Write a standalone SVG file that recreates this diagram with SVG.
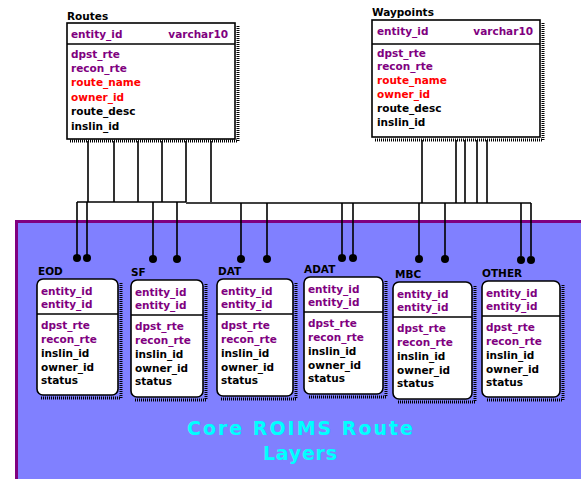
<svg xmlns="http://www.w3.org/2000/svg" width="581" height="479" viewBox="0 0 581 479">
<style>
text{font-family:"DejaVu Sans","Liberation Sans",sans-serif;font-size:10.5px;font-weight:bold}
.p{fill:#800080}.r{fill:#ff0000}.k{fill:#000}
.lbl{fill:#000;font-size:10.5px}
.box{fill:#fff;stroke:#000;stroke-width:1.6}
.sep{stroke:#000;stroke-width:1.6}
.shd{fill:none;stroke:#000;stroke-width:3;stroke-dasharray:1 1}
.ln{stroke:#000;stroke-width:1.6;fill:none}
.title{fill:#00ffff;font-size:19px;font-weight:bold}
</style>
<defs>
<g id="child">
<rect class="box" x="0" y="0" width="0" height="0"/>
</g>
</defs>
<rect width="581" height="479" fill="#fff"/>
<rect x="16.5" y="221.5" width="570" height="262" fill="#8080ff" stroke="#800080" stroke-width="3"/>
<g id="title">
<text class="title" x="300" y="435" text-anchor="middle" textLength="226" lengthAdjust="spacing">Core ROIMS Route</text>
<text class="title" x="300" y="460" text-anchor="middle" textLength="74" lengthAdjust="spacing">Layers</text>
</g>
<g id="routes">
<text class="lbl" x="67" y="20">Routes</text>
<path class="shd" d="M238 26 V141 H70"/>
<rect class="box" x="67" y="23" width="168" height="116"/>
<line class="sep" x1="67" y1="44" x2="235" y2="44"/>
<text class="p" x="71" y="38">entity_id</text>
<text class="p" x="228" y="38" text-anchor="end">varchar10</text>
<text class="p" x="71" y="58">dpst_rte</text>
<text class="p" x="71" y="72">recon_rte</text>
<text class="r" x="71" y="86">route_name</text>
<text class="r" x="71" y="101">owner_id</text>
<text class="k" x="71" y="115">route_desc</text>
<text class="k" x="71" y="130">inslin_id</text>
</g>
<g id="waypoints">
<text class="lbl" x="372" y="16">Waypoints</text>
<path class="shd" d="M543 23 V140 H375"/>
<rect class="box" x="372" y="20" width="168" height="117"/>
<line class="sep" x1="372" y1="44" x2="540" y2="44"/>
<text class="p" x="377" y="35">entity_id</text>
<text class="p" x="533" y="35" text-anchor="end">varchar10</text>
<text class="p" x="377" y="57">dpst_rte</text>
<text class="p" x="377" y="70">recon_rte</text>
<text class="r" x="377" y="84">route_name</text>
<text class="r" x="377" y="98">owner_id</text>
<text class="k" x="377" y="112">route_desc</text>
<text class="k" x="377" y="126">inslin_id</text>
</g>
<g id="connectors">
<path class="ln" d="M88 141V202M114 141V202M138 141V202M162 141V202M186 141V202M211 141V202"/>
<path class="ln" d="M422 140V203M456 140V203M465 140V203M477 140V203"/>
<path class="ln" stroke-width="3" d="M487 140V203"/>
<path class="ln" d="M77 202H186"/>
<path class="ln" stroke-width="2.5" d="M186 203H531"/>
<path class="ln" d="M77 202V256M87 202V256M153 202V256M177 202V256M241 203V256M267 203V256M342 203V256M353 203V256M419 203V256M445 203V256M521 203V256M531 203V256"/>
<g fill="#000">
<circle cx="77" cy="258" r="4"/><circle cx="87" cy="258" r="4"/>
<circle cx="153" cy="259" r="4"/><circle cx="177" cy="259" r="4"/>
<circle cx="241" cy="259" r="4"/><circle cx="267" cy="259" r="4"/>
<circle cx="342" cy="258" r="4"/><circle cx="353" cy="258" r="4"/>
<circle cx="419" cy="259" r="4"/><circle cx="445" cy="259" r="4"/>
<circle cx="521" cy="260" r="4"/><circle cx="531" cy="260" r="4"/>
</g>
</g>
<g id="eod" transform="translate(37,279)">
<text class="lbl" x="1" y="-4">EOD</text>
<path class="shd" d="M84 4V119H4"/>
<rect class="box" x="0" y="0" width="81" height="116" rx="6"/>
<line class="sep" x1="0" y1="35" x2="81" y2="35"/>
<text class="p" x="4" y="16">entity_id</text><text class="p" x="4" y="29">entity_id</text>
<text class="p" x="4" y="50">dpst_rte</text><text class="p" x="4" y="64">recon_rte</text>
<text class="k" x="4" y="78">inslin_id</text><text class="k" x="4" y="92">owner_id</text><text class="k" x="4" y="105">status</text>
</g>
<g id="sf" transform="translate(131,280)">
<text class="lbl" x="0" y="-4">SF</text>
<path class="shd" d="M75 4V120H4"/>
<rect class="box" x="0" y="0" width="72" height="117" rx="6"/>
<line class="sep" x1="0" y1="35" x2="72" y2="35"/>
<text class="p" x="4" y="16">entity_id</text><text class="p" x="4" y="29">entity_id</text>
<text class="p" x="4" y="50">dpst_rte</text><text class="p" x="4" y="64">recon_rte</text>
<text class="k" x="4" y="78">inslin_id</text><text class="k" x="4" y="92">owner_id</text><text class="k" x="4" y="105">status</text>
</g>
<g id="dat" transform="translate(217,279)">
<text class="lbl" x="1" y="-4">DAT</text>
<path class="shd" d="M79 4V120H4"/>
<rect class="box" x="0" y="0" width="76" height="117" rx="6"/>
<line class="sep" x1="0" y1="35" x2="76" y2="35"/>
<text class="p" x="4" y="16">entity_id</text><text class="p" x="4" y="29">entity_id</text>
<text class="p" x="4" y="50">dpst_rte</text><text class="p" x="4" y="64">recon_rte</text>
<text class="k" x="4" y="78">inslin_id</text><text class="k" x="4" y="92">owner_id</text><text class="k" x="4" y="105">status</text>
</g>
<g id="adat" transform="translate(304,277)">
<text class="lbl" x="0" y="-4">ADAT</text>
<path class="shd" d="M82 4V120H4"/>
<rect class="box" x="0" y="0" width="79" height="117" rx="6"/>
<line class="sep" x1="0" y1="35" x2="79" y2="35"/>
<text class="p" x="4" y="16">entity_id</text><text class="p" x="4" y="29">entity_id</text>
<text class="p" x="4" y="50">dpst_rte</text><text class="p" x="4" y="64">recon_rte</text>
<text class="k" x="4" y="78">inslin_id</text><text class="k" x="4" y="92">owner_id</text><text class="k" x="4" y="105">status</text>
</g>
<g id="mbc" transform="translate(393,282)">
<text class="lbl" x="2" y="-4">MBC</text>
<path class="shd" d="M82 4V120H4"/>
<rect class="box" x="0" y="0" width="79" height="117" rx="6"/>
<line class="sep" x1="0" y1="35" x2="79" y2="35"/>
<text class="p" x="4" y="16">entity_id</text><text class="p" x="4" y="29">entity_id</text>
<text class="p" x="4" y="50">dpst_rte</text><text class="p" x="4" y="64">recon_rte</text>
<text class="k" x="4" y="78">inslin_id</text><text class="k" x="4" y="92">owner_id</text><text class="k" x="4" y="105">status</text>
</g>
<g id="other" transform="translate(482,281)">
<text class="lbl" x="0" y="-4">OTHER</text>
<path class="shd" d="M81 4V119H4"/>
<rect class="box" x="0" y="0" width="78" height="116" rx="6"/>
<line class="sep" x1="0" y1="35" x2="78" y2="35"/>
<text class="p" x="4" y="16">entity_id</text><text class="p" x="4" y="29">entity_id</text>
<text class="p" x="4" y="50">dpst_rte</text><text class="p" x="4" y="64">recon_rte</text>
<text class="k" x="4" y="78">inslin_id</text><text class="k" x="4" y="92">owner_id</text><text class="k" x="4" y="105">status</text>
</g>
</svg>
